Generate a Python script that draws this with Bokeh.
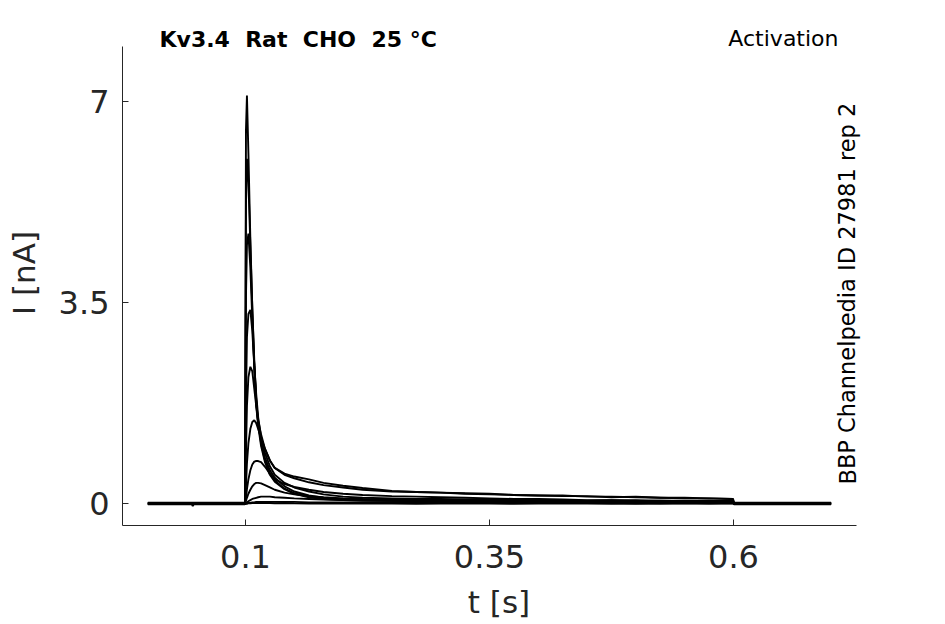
from bokeh.plotting import figure
from bokeh.models import Range1d, FixedTicker, Label
from bokeh.embed import file_html
from bokeh.resources import INLINE

# time samples [s]
t = [0.0, 0.045, 0.046, 0.047, 0.0995, 0.1005, 0.1015, 0.103, 0.105, 0.107,
     0.109, 0.111, 0.113, 0.116, 0.12, 0.125, 0.13, 0.14, 0.15, 0.165,
     0.18, 0.2, 0.22, 0.25, 0.275, 0.3, 0.325, 0.35, 0.375, 0.4,
     0.425, 0.45, 0.475, 0.5, 0.525, 0.55, 0.575, 0.5995, 0.6005, 0.7]

# current traces [nA], one per test voltage
i_a = [0, 0, 0, 0, 0, 6.5, 7.1, 6.1, 4.6, 3.4,
       2.4, 1.7, 1.35, 1.0, 0.72, 0.5, 0.38, 0.25, 0.17, 0.11,
       0.08, 0.06, 0.05, 0.05, 0.04, 0.05, 0.03, 0.04, 0.03, 0.04,
       0.02, 0.03, 0.04, 0.02, 0.03, 0.04, 0.02, 0.03, 0.0, 0.0]
i_b = [-0.01, -0.01, -0.01, -0.01, -0.01, 5.2, 6.0, 5.6, 4.5, 3.4,
       2.5, 1.8, 1.4, 1.05, 0.75, 0.52, 0.4, 0.26, 0.18, 0.12,
       0.09, 0.07, 0.06, 0.05, 0.05, 0.04, 0.05, 0.03, 0.04, 0.03,
       0.04, 0.03, 0.02, 0.04, 0.03, 0.02, 0.03, 0.02, -0.01, -0.01]
i_c = [0.015, 0.015, 0.015, 0.015, 0.015, 3.6, 4.5, 4.7, 4.1, 3.2,
       2.4, 1.8, 1.4, 1.1, 0.8, 0.58, 0.45, 0.3, 0.21, 0.14,
       0.1, 0.08, 0.07, 0.06, 0.06, 0.05, 0.06, 0.04, 0.05, 0.04,
       0.05, 0.03, 0.04, 0.05, 0.03, 0.04, 0.05, 0.03, 0.015, 0.015]
i_d = [-0.005, -0.005, -0.005, -0.005, -0.005, 1.8, 2.9, 3.3, 3.37, 3.0,
       2.4, 1.9, 1.5, 1.15, 0.88, 0.65, 0.5, 0.36, 0.28, 0.21,
       0.16, 0.12, 0.1, 0.09, 0.08, 0.08, 0.07, 0.07, 0.06, 0.06,
       0.05, 0.05, 0.06, 0.04, 0.05, 0.04, 0.04, 0.05, -0.005, -0.005]
i_e = [0.005, 0.005, 0.005, 0.005, 0.005, 0.9, 1.7, 2.2, 2.38, 2.3,
       2.0, 1.7, 1.45, 1.2, 0.95, 0.75, 0.62, 0.5, 0.44, 0.37,
       0.32, 0.28, 0.24, 0.21, 0.2, 0.19, 0.17, 0.16, 0.15, 0.14,
       0.13, 0.13, 0.11, 0.12, 0.1, 0.1, 0.09, 0.08, 0.005, 0.005]
i_f = [0.01, 0.01, 0.01, 0.01, 0.01, 0.3, 0.7, 1.05, 1.3, 1.42,
       1.45, 1.4, 1.3, 1.15, 0.95, 0.75, 0.62, 0.52, 0.47, 0.42,
       0.36, 0.31, 0.27, 0.22, 0.2, 0.19, 0.18, 0.17, 0.15, 0.14,
       0.14, 0.12, 0.12, 0.11, 0.1, 0.09, 0.09, 0.08, 0.01, 0.01]
i_g = [-0.015, -0.015, -0.015, -0.015, -0.015, 0.1, 0.25, 0.42, 0.58, 0.68,
       0.73, 0.74, 0.74, 0.72, 0.64, 0.52, 0.42, 0.34, 0.29, 0.24,
       0.2, 0.17, 0.15, 0.13, 0.12, 0.11, 0.1, 0.09, 0.08, 0.08,
       0.07, 0.06, 0.06, 0.06, 0.05, 0.05, 0.05, 0.04, -0.015, -0.015]
i_h = [0, 0, 0, 0, 0, 0.05, 0.1, 0.17, 0.24, 0.3,
       0.34, 0.36, 0.36, 0.35, 0.32, 0.28, 0.24, 0.19, 0.16, 0.13,
       0.11, 0.09, 0.08, 0.07, 0.06, 0.06, 0.05, 0.05, 0.04, 0.05,
       0.04, 0.03, 0.04, 0.03, 0.04, 0.03, 0.02, 0.03, 0, 0]
i_i = [0.01, 0.01, 0.01, 0.01, 0.01, 0.015, 0.02, 0.04, 0.06, 0.08,
       0.09, 0.1, 0.11, 0.12, 0.12, 0.12, 0.11, 0.1, 0.09, 0.08,
       0.07, 0.06, 0.06, 0.05, 0.05, 0.04, 0.05, 0.04, 0.04, 0.03,
       0.04, 0.03, 0.03, 0.02, 0.03, 0.02, 0.03, 0.02, 0.01, 0.01]
i_j = [-0.01, -0.01, -0.045, -0.01, -0.01, -0.005, 0.0, 0.01, 0.01, 0.02,
       0.02, 0.03, 0.03, 0.03, 0.03, 0.03, 0.03, 0.03, 0.03, 0.02,
       0.02, 0.02, 0.02, 0.02, 0.01, 0.02, 0.01, 0.02, 0.01, 0.01,
       0.02, 0.01, 0.0, 0.01, 0.0, 0.01, 0.0, 0.01, -0.01, -0.01]
i_k = [0, 0, 0, 0, 0, 0, 0, 0.005, 0.005, 0.01,
       0.01, 0.01, 0.01, 0.01, 0.01, 0.01, 0.005, 0.01, 0.005, 0.0,
       0.005, 0.0, 0.005, 0.0, -0.005, 0.0, 0.005, 0.0, -0.005, 0.0,
       0.0, 0.005, 0.0, -0.005, 0.0, 0.005, 0.0, 0.0, 0, 0]
traces = [i_k, i_j, i_i, i_h, i_g, i_f, i_e, i_d, i_c, i_b, i_a]

x_ticks = [0.1, 0.35, 0.6]
y_ticks = [0, 3.5, 7]
x_labels = {0.1: "0.1", 0.35: "0.35", 0.6: "0.6"}
y_labels = {0: "0", 3.5: "3.5", 7: "7"}

# double gaps kept visible with a no-break space before each normal space
title_text = "Kv3.4\u00a0 Rat\u00a0 CHO\u00a0 25 \u00b0C"
protocol_text = "Activation"
side_text = "BBP Channelpedia ID 27981 rep 2"

FONT = "DejaVu Sans"
INK = "#262626"

X_LO, X_AXIS_HI, X_HI = -0.026, 0.726, 0.7455
Y_LO, Y_AXIS_TOP, Y_HI = -0.382, 7.955, 8.407

p = figure(width=935, height=622, output_backend="svg", toolbar_location=None,
           x_range=Range1d(X_LO, X_HI), y_range=Range1d(Y_LO, Y_HI),
           min_border_left=122, min_border_right=60, min_border_top=20, min_border_bottom=96)
p.outline_line_color = None
p.xgrid.visible = False
p.ygrid.visible = False
p.background_fill_color = "white"
p.border_fill_color = "white"

for tr in traces:
    p.line(t, tr, line_color="black", line_width=1.9)

for ax in (p.xaxis[0], p.yaxis[0]):
    ax.axis_line_color = INK
    ax.major_tick_line_color = INK
    ax.major_tick_in = 6
    ax.major_tick_out = 0
    ax.minor_tick_line_color = None
    ax.major_label_text_font = FONT
    ax.major_label_text_font_size = "32px"
    ax.major_label_text_color = INK
    ax.axis_label_text_font = FONT
    ax.axis_label_text_font_size = "31px"
    ax.axis_label_text_font_style = "normal"
    ax.axis_label_text_color = INK

p.xaxis.bounds = (X_LO, X_AXIS_HI)
p.yaxis.bounds = (Y_LO, Y_AXIS_TOP)
p.xaxis.ticker = FixedTicker(ticks=x_ticks)
p.yaxis.ticker = FixedTicker(ticks=y_ticks)
p.xaxis.major_label_overrides = x_labels
p.yaxis.major_label_overrides = y_labels
p.xaxis.axis_label = "t [s]"
p.yaxis.axis_label = "I [nA]"
p.xaxis.major_label_standoff = 19
p.yaxis.major_label_standoff = 13
p.xaxis.axis_label_standoff = 13
p.yaxis.axis_label_standoff = 14

p.add_layout(Label(x=37, y=486, x_units="screen", y_units="screen", text=title_text,
                   text_font=FONT, text_font_size="22px", text_font_style="bold",
                   text_color="black", text_baseline="alphabetic", text_align="left"))
p.add_layout(Label(x=716, y=487, x_units="screen", y_units="screen", text=protocol_text,
                   text_font=FONT, text_font_size="22px", text_color="black",
                   text_baseline="alphabetic", text_align="right"))
p.add_layout(Label(x=725, y=41, x_units="screen", y_units="screen", text=side_text,
                   text_font=FONT, text_font_size="22.5px", text_color="black",
                   angle=1.5708, text_baseline="alphabetic", text_align="left"))

open("out.html", "w").write(file_html(p, INLINE))
